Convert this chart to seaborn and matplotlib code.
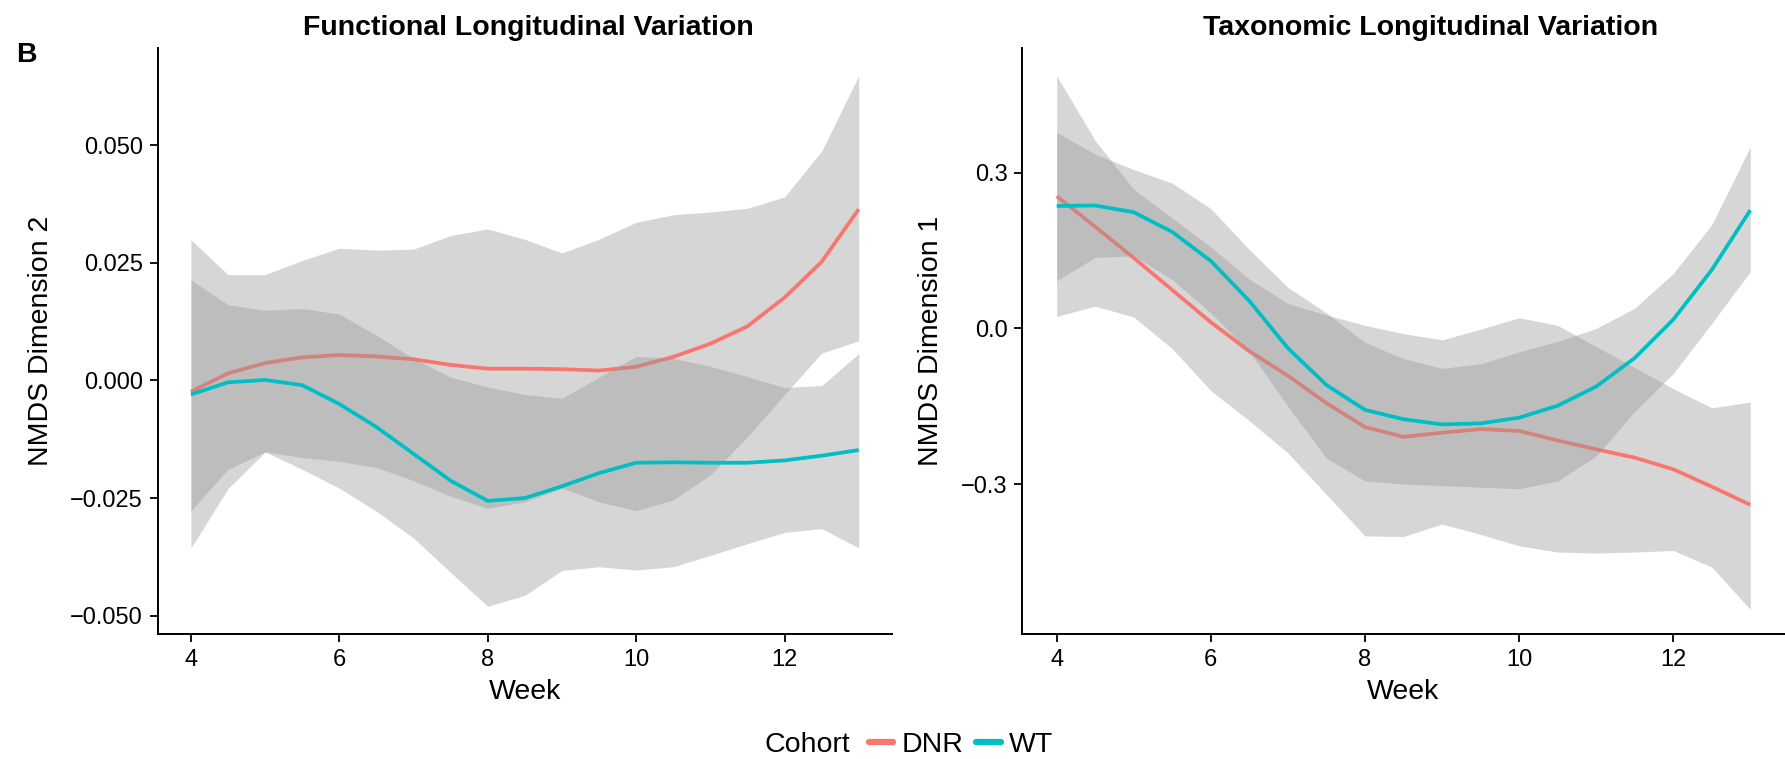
import numpy as np
import pandas as pd
import matplotlib
matplotlib.use("Agg")
import matplotlib.pyplot as plt
from matplotlib.lines import Line2D
from matplotlib import font_manager as fm
import seaborn as sns

# ---------------- data ----------------
weeks = [4, 4.5, 5, 5.5, 6, 6.5, 7, 7.5, 8, 8.5, 9, 9.5, 10, 10.5, 11, 11.5, 12, 12.5, 13]
cohorts = ["DNR", "WT"]

# Functional panel (NMDS Dimension 2)
func_dnr_fit = [-0.0024, 0.0015, 0.0037, 0.0049, 0.0054, 0.0051, 0.0045, 0.0033, 0.0025, 0.0025,
                0.0024, 0.0021, 0.0029, 0.0050, 0.0078, 0.0115, 0.0176, 0.0252, 0.0364]
func_dnr_hi = [0.0299, 0.0225, 0.0225, 0.0255, 0.0281, 0.0277, 0.0279, 0.0308, 0.0322, 0.0300,
               0.0271, 0.0300, 0.0336, 0.0352, 0.0358, 0.0366, 0.0390, 0.0487, 0.0648]
func_dnr_lo = [-0.0356, -0.0230, -0.0152, -0.0164, -0.0172, -0.0185, -0.0213, -0.0246, -0.0272, -0.0258,
               -0.0229, -0.0258, -0.0277, -0.0254, -0.0201, -0.0120, -0.0030, 0.0058, 0.0084]
func_wt_fit = [-0.0030, -0.0004, 0.0001, -0.0010, -0.0050, -0.0099, -0.0156, -0.0213, -0.0256, -0.0250,
               -0.0225, -0.0197, -0.0175, -0.0174, -0.0175, -0.0175, -0.0170, -0.0160, -0.0148]
func_wt_hi = [0.0214, 0.0161, 0.0149, 0.0153, 0.0141, 0.0096, 0.0047, 0.0007, -0.0014, -0.0030,
              -0.0038, 0.0007, 0.0051, 0.0047, 0.0030, 0.0008, -0.0015, -0.0011, 0.0057]
func_wt_lo = [-0.0277, -0.0189, -0.0152, -0.0189, -0.0229, -0.0278, -0.0335, -0.0408, -0.0480, -0.0457,
              -0.0404, -0.0396, -0.0403, -0.0396, -0.0372, -0.0347, -0.0323, -0.0315, -0.0356]

# Taxonomic panel (NMDS Dimension 1)
tax_dnr_fit = [0.255, 0.196, 0.136, 0.074, 0.012, -0.044, -0.091, -0.144, -0.190, -0.209,
               -0.201, -0.194, -0.1975, -0.216, -0.233, -0.249, -0.2715, -0.305, -0.340]
tax_dnr_hi = [0.487, 0.362, 0.268, 0.213, 0.157, 0.095, 0.048, 0.026, 0.006, -0.010,
              -0.022, -0.0015, 0.0207, 0.006, -0.035, -0.0755, -0.116, -0.153, -0.142]
tax_dnr_lo = [0.023, 0.043, 0.022, -0.039, -0.120, -0.178, -0.240, -0.320, -0.400, -0.401,
              -0.377, -0.397, -0.419, -0.431, -0.433, -0.431, -0.428, -0.460, -0.5415]
tax_wt_fit = [0.236, 0.237, 0.224, 0.186, 0.130, 0.053, -0.038, -0.109, -0.157, -0.175,
              -0.185, -0.183, -0.172, -0.149, -0.112, -0.057, 0.017, 0.113, 0.228]
tax_wt_hi = [0.378, 0.336, 0.306, 0.280, 0.231, 0.152, 0.079, 0.030, -0.027, -0.058,
             -0.077, -0.068, -0.045, -0.025, 0.000, 0.039, 0.106, 0.200, 0.350]
tax_wt_lo = [0.092, 0.137, 0.140, 0.094, 0.030, -0.045, -0.150, -0.250, -0.294, -0.300,
             -0.303, -0.306, -0.309, -0.294, -0.246, -0.160, -0.087, 0.010, 0.1095]

func_yticks = [-0.050, -0.025, 0.000, 0.025, 0.050]
tax_yticks = [-0.3, 0.0, 0.3]
x_ticks = [4, 6, 8, 10, 12]

# ---------------- style ----------------
sns.set_theme(style="ticks")


def has_font(name):
    try:
        fm.findfont(fm.FontProperties(family=name), fallback_to_default=False)
        return True
    except Exception:
        return False


if has_font("Liberation Sans Narrow"):
    FAMILY = ["Liberation Sans Narrow", "Liberation Sans", "DejaVu Sans"]
    K = 1.2
else:
    FAMILY = ["Liberation Sans", "DejaVu Sans"]
    K = 1.0

plt.rcParams["font.family"] = FAMILY
plt.rcParams["text.color"] = "black"
plt.rcParams["axes.labelcolor"] = "black"
plt.rcParams["xtick.color"] = "black"
plt.rcParams["ytick.color"] = "black"

FS_TICK = 17 * K
FS_LAB = 20.5 * K

palette = {"DNR": "#F8766D", "WT": "#00BFC4"}
RIBBON = "#999999"

W, H = 1785, 759
fig = plt.figure(figsize=(W / 100, H / 100), dpi=100)
ax1 = fig.add_axes([157.5 / W, 1 - 634 / H, 734.6 / W, 585.7 / H])
ax2 = fig.add_axes([1022 / W, 1 - 634 / H, 763 / W, 585.7 / H])


def build(fit_d, lo_d, hi_d, fit_w, lo_w, hi_w):
    rows = []
    for c, f, l, h in (("DNR", fit_d, lo_d, hi_d), ("WT", fit_w, lo_w, hi_w)):
        for w, fv, lv, hv in zip(weeks, f, l, h):
            rows.append({"Week": w, "fit": fv, "lo": lv, "hi": hv, "Cohort": c})
    return pd.DataFrame(rows)


df_func = build(func_dnr_fit, func_dnr_lo, func_dnr_hi, func_wt_fit, func_wt_lo, func_wt_hi)
df_tax = build(tax_dnr_fit, tax_dnr_lo, tax_dnr_hi, tax_wt_fit, tax_wt_lo, tax_wt_hi)


def fmt_tick(t, fmt):
    s = fmt % abs(t)
    return ("\u2212" + s) if t < 0 else s


def draw(ax, df, ylabel, yticks, fmt, ylim):
    z = 2
    for c in cohorts:
        sub = df[df["Cohort"] == c]
        ax.fill_between(sub["Week"], sub["lo"], sub["hi"], color=RIBBON, alpha=0.4,
                        linewidth=0, zorder=z)
        sns.lineplot(data=sub, x="Week", y="fit", color=palette[c], linewidth=2.7,
                     ax=ax, zorder=z + 1, legend=False, solid_capstyle="butt")
        z += 2
    ax.set_xlim(3.55, 13.45)
    ax.set_ylim(*ylim)
    ax.set_xticks(x_ticks)
    ax.set_xticklabels([str(t) for t in x_ticks])
    ax.set_yticks(yticks)
    ax.set_yticklabels([fmt_tick(t, fmt) for t in yticks])
    for s in ("top", "right"):
        ax.spines[s].set_visible(False)
    for s in ("left", "bottom"):
        ax.spines[s].set_linewidth(1.4)
        ax.spines[s].set_color("black")
    ax.tick_params(axis="both", length=5.5, width=1.3, color="black", labelsize=FS_TICK,
                   labelcolor="black", pad=5)
    ax.set_xlabel("Week", fontsize=FS_LAB, color="black", labelpad=6)
    ax.set_ylabel(ylabel, fontsize=FS_LAB, color="black", labelpad=12)
    ax.set_facecolor("white")


draw(ax1, df_func, "NMDS Dimension 2", func_yticks, "%.3f", (-0.0539, 0.0706))
draw(ax2, df_tax, "NMDS Dimension 1", tax_yticks, "%.1f", (-0.589, 0.540))

# titles and panel tag
fig.text(528 / W, 1 - 28 / H, "Functional Longitudinal Variation", ha="center", va="center",
         fontsize=FS_LAB, fontweight="bold", color="black")
fig.text(1431 / W, 1 - 28 / H, "Taxonomic Longitudinal Variation", ha="center", va="center",
         fontsize=FS_LAB, fontweight="bold", color="black")
fig.text(26 / W, 1 - 55 / H, "B", ha="center", va="center", fontsize=FS_LAB,
         fontweight="bold", color="black")

# legend at bottom
fig.text(765 / W, 1 - 745 / H, "Cohort", ha="left", va="center", fontsize=FS_LAB, color="black")
handles = [Line2D([0], [0], color=palette[c], linewidth=4.5) for c in cohorts]
fig.legend(handles, cohorts, loc="center left", bbox_to_anchor=(869 / W, 1 - 745 / H),
           ncol=2, frameon=False, fontsize=FS_LAB, handlelength=0.85 / K, handletextpad=0.3 / K,
           columnspacing=0.45 / K, borderpad=0, borderaxespad=0)

fig.savefig("out.png", dpi=100, facecolor="white")
